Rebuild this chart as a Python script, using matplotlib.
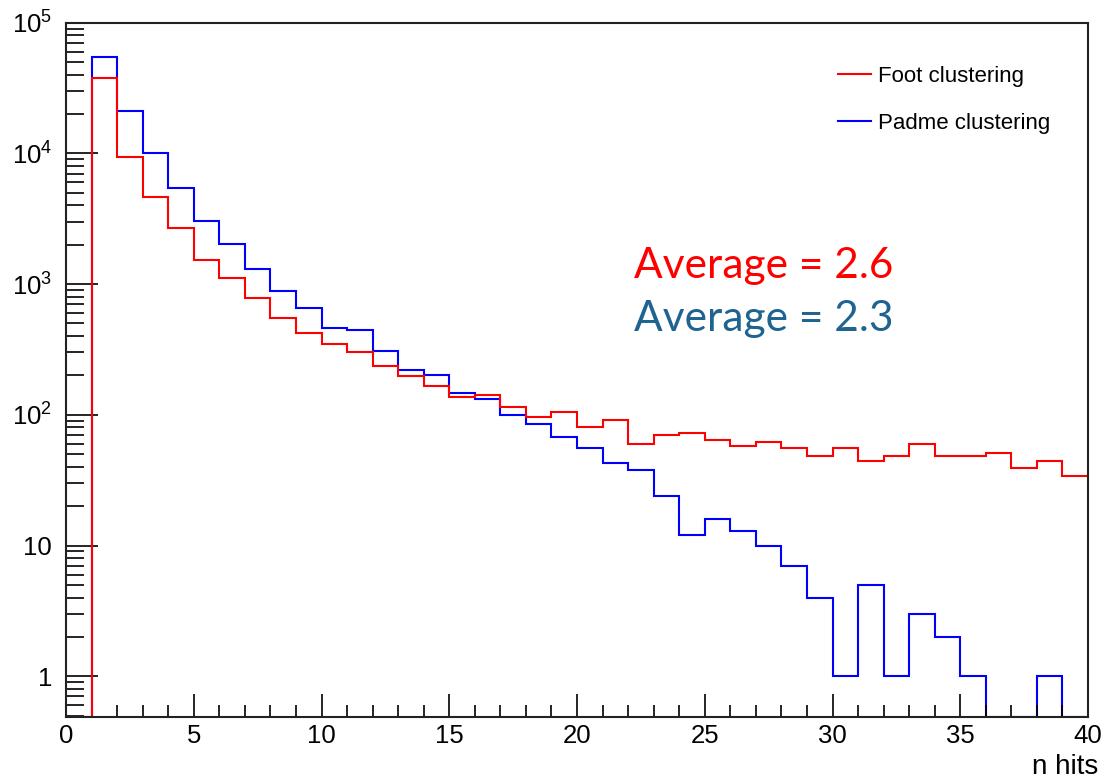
import numpy as np
import matplotlib
matplotlib.use("Agg")
import matplotlib.pyplot as plt
from matplotlib.ticker import FixedLocator, NullFormatter

plt.rcParams['font.family'] = ['Liberation Sans', 'DejaVu Sans']

# ---- data ----
bin_edges = np.arange(0, 41, 1)
foot_counts = [0, 37500, 9400, 4650, 2700, 1530, 1120, 780, 550, 425,
               348, 305, 236, 197, 167, 138, 142, 114, 97, 105,
               80, 91, 60, 70, 72, 64, 58, 62, 56, 48,
               56, 44, 48, 60, 48, 48, 51, 39, 44, 34]
padme_counts = [0, 55000, 21000, 10000, 5480, 3060, 2010, 1300, 886, 661,
                461, 442, 306, 222, 201, 146, 132, 100, 85, 68,
                56, 43, 38, 24, 12, 16, 13, 10, 7, 4,
                1, 5, 1, 3, 2, 1, 0, 0, 1, 0]
series_labels = ["Foot clustering", "Padme clustering"]
avg_texts = ["Average = 2.6", "Average = 2.3"]
xticks = [0, 5, 10, 15, 20, 25, 30, 35, 40]
ydecades = [1, 10, 100, 1000, 10000, 100000]
ydecade_labels = ["1", "10", r"$\mathdefault{10^{2}}$", r"$\mathdefault{10^{3}}$",
                  r"$\mathdefault{10^{4}}$", r"$\mathdefault{10^{5}}$"]

ymin, ymax = 0.49, 1e5

W, H = 1104, 780
fig = plt.figure(figsize=(W / 100, H / 100), dpi=100)
L, R, T, B = 66, 1088, 22.7, 716.7
ax = fig.add_axes([L / W, 1 - B / H, (R - L) / W, (B - T) / H])

def floor(v):
    v = np.asarray(v, dtype=float)
    return np.where(v > 0, v, ymin)

ax.stairs(floor(foot_counts), bin_edges, baseline=None, color='#ff0000', lw=1.5,
          label=series_labels[0], zorder=2)
ax.stairs(floor(padme_counts), bin_edges, baseline=None, color='#0000ff', lw=1.5,
          label=series_labels[1], zorder=1)

ax.set_yscale('log')
ax.set_xlim(0, 40)
ax.set_ylim(ymin, ymax)

ax.set_xticks(xticks)
ax.set_xticklabels([str(t) for t in xticks])
ax.xaxis.set_minor_locator(FixedLocator(np.arange(0, 41, 1)))
ax.yaxis.set_major_locator(FixedLocator(ydecades))
ax.set_yticklabels(ydecade_labels)
minor_y = [m * 10.0 ** e for e in range(-1, 5) for m in range(2, 10)]
ax.yaxis.set_minor_locator(FixedLocator(minor_y))
ax.yaxis.set_minor_formatter(NullFormatter())

ax.tick_params(axis='x', which='major', direction='in', length=16.5, width=1.2,
               labelsize=18.5, pad=5, top=False)
ax.tick_params(axis='x', which='minor', direction='in', length=8.6, width=1.2, top=False)
ax.tick_params(axis='y', which='major', direction='in', length=23, width=1.2,
               labelsize=18.5, pad=10, right=False)
ax.tick_params(axis='y', which='minor', direction='in', length=13, width=1.2, right=False)

for s in ax.spines.values():
    s.set_linewidth(1.5)
    s.set_color('#222222')
    s.set_zorder(5)

ax.set_xlabel("n hits", fontsize=20, ha='right', va='center')
ax.xaxis.set_label_coords((1098 - L) / (R - L), -(767 - B) / (B - T))

leg = ax.legend(loc='upper left', bbox_to_anchor=(838 / W, 1 - 66 / H),
                bbox_transform=fig.transFigure, frameon=False, fontsize=16,
                handlelength=1.5, handletextpad=0.32, labelspacing=1.17,
                borderpad=0, borderaxespad=0)

fig.text(634 / W, 1 - 277.7 / H, avg_texts[0], color='#ff0000', fontsize=30.5,
         family=['Lato', 'DejaVu Sans'], ha='left', va='baseline')
fig.text(634 / W, 1 - 331 / H, avg_texts[1], color='#1f6391', fontsize=30.5,
         family=['Lato', 'DejaVu Sans'], ha='left', va='baseline')

fig.savefig("out.png", dpi=100)
